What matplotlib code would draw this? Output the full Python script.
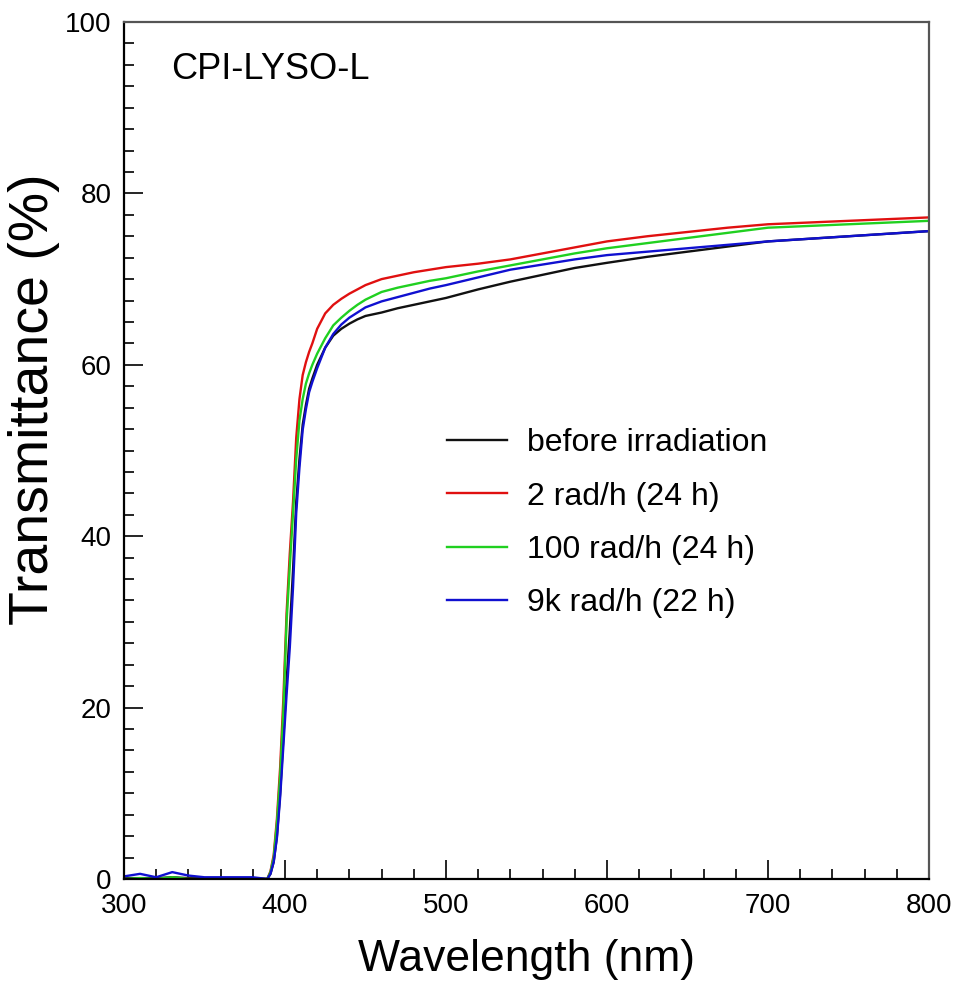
'''
Transmittance of CPI-LYSO-L before and after irradiation
'''

import matplotlib.pyplot as plt
from matplotlib.ticker import MultipleLocator

plt.rcParams['font.family'] = ['Liberation Sans', 'DejaVu Sans']

wavelength = [300, 310, 320, 330, 340, 350, 360, 370, 380, 389, 391, 393, 395,
              397, 399, 401, 403, 405, 407, 409, 411, 413, 415, 417, 420, 425,
              430, 435, 440, 445, 450, 460, 470, 480, 490, 500, 520, 540, 560,
              580, 600, 625, 650, 675, 700, 725, 750, 775, 800]

before = [0.1, 0.1, 0.1, 0.2, 0.1, 0.1, 0.1, 0.1, 0.1, 0.0, 0.6, 2.0, 5.0,
          10.0, 16.5, 23.0, 29.0, 36.0, 44.0, 49.0, 53.0, 55.3, 57.2, 58.4,
          60.0, 62.0, 63.4, 64.2, 64.8, 65.3, 65.7, 66.1, 66.6, 67.0, 67.4,
          67.8, 68.8, 69.7, 70.5, 71.3, 71.9, 72.6, 73.2, 73.8, 74.4, 74.7,
          75.0, 75.3, 75.6]

rad_2 = [0.0, 0.0, 0.0, 0.1, 0.0, 0.0, 0.0, 0.0, 0.0, 0.0, 0.9, 2.8, 7.0,
         13.0, 21.0, 31.0, 38.0, 44.0, 51.5, 56.0, 58.8, 60.3, 61.5, 62.5,
         64.2, 66.0, 67.0, 67.7, 68.3, 68.8, 69.3, 70.0, 70.4, 70.8, 71.1,
         71.4, 71.8, 72.3, 73.0, 73.7, 74.4, 75.0, 75.5, 76.0, 76.4, 76.6,
         76.8, 77.0, 77.2]

rad_100 = [0.0, 0.1, 0.0, 0.2, 0.0, 0.0, 0.0, 0.0, 0.0, 0.0, 0.8, 2.5, 6.5,
           12.0, 19.5, 30.0, 36.5, 42.7, 49.0, 53.5, 56.0, 57.8, 59.0, 60.0,
           61.3, 63.1, 64.6, 65.5, 66.3, 67.0, 67.6, 68.5, 69.0, 69.4, 69.8,
           70.1, 70.9, 71.6, 72.3, 73.0, 73.6, 74.2, 74.8, 75.4, 76.0, 76.2,
           76.4, 76.6, 76.8]

rad_9k = [0.3, 0.6, 0.2, 0.8, 0.4, 0.2, 0.2, 0.2, 0.2, 0.0, 0.6, 2.0, 4.8,
          9.5, 15.5, 21.5, 27.0, 34.0, 42.7, 48.0, 52.4, 54.8, 56.8, 58.0,
          59.6, 62.0, 63.6, 64.7, 65.5, 66.1, 66.7, 67.4, 67.9, 68.4, 68.9,
          69.3, 70.2, 71.1, 71.7, 72.3, 72.8, 73.2, 73.6, 74.0, 74.4, 74.7,
          75.0, 75.3, 75.6]

labels = ['before irradiation', '2 rad/h (24 h)', '100 rad/h (24 h)',
          '9k rad/h (22 h)']
colors = ['#111111', '#e01010', '#20d020', '#1010d0']

fig = plt.figure(figsize=(9.58, 10.01), dpi=100)
ax = fig.add_axes([0.1294, 0.1219, 0.8403, 0.8561])

for series, label, color in zip([before, rad_2, rad_100, rad_9k], labels, colors):
    ax.plot(wavelength, series, color=color, lw=1.7, label=label)

ax.set_xlim(300, 800)
ax.set_ylim(0, 100)
ax.xaxis.set_major_locator(MultipleLocator(100))
ax.xaxis.set_minor_locator(MultipleLocator(20))
ax.yaxis.set_major_locator(MultipleLocator(20))
ax.yaxis.set_minor_locator(MultipleLocator(2.5))
ax.tick_params(which='both', direction='in', top=False, right=False,
               labelsize=20, width=1.2)
ax.tick_params(which='major', length=14)
ax.tick_params(which='minor', length=7)
ax.tick_params(axis='x', pad=10)
ax.tick_params(axis='y', pad=9)

for side in ['left', 'bottom']:
    ax.spines[side].set_linewidth(1.6)
for side in ['top', 'right']:
    ax.spines[side].set_linewidth(1.6)
    ax.spines[side].set_color('#555555')

ax.set_xlabel('Wavelength (nm)', fontsize=32)
ax.set_ylabel('Transmittance (%)', fontsize=40)
ax.xaxis.set_label_coords(0.5, -0.07)
ax.yaxis.set_label_coords(-0.08, 0.56)

ax.text(0.059, 0.945, 'CPI-LYSO-L', transform=ax.transAxes, fontsize=26,
        va='center', ha='left')

ax.legend(loc='upper left', bbox_to_anchor=(0.401, 0.526), frameon=False,
          fontsize=23, handlelength=1.9, handletextpad=0.6, labelspacing=0.73,
          borderpad=0, borderaxespad=0)

fig.savefig('out.png', dpi=100)
